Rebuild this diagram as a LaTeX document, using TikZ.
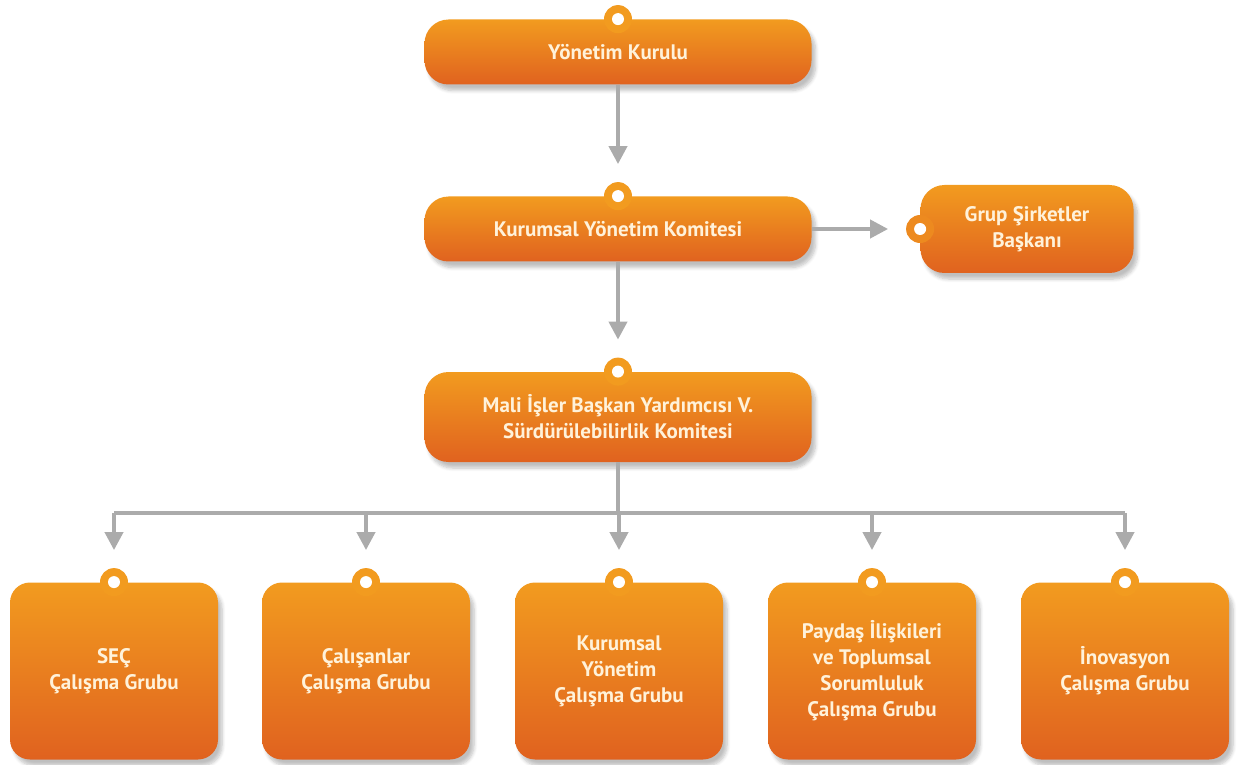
\documentclass[tikz,border=0pt]{standalone}
\usepackage{fontspec}
\setsansfont{PT Sans}
\usetikzlibrary{arrows.meta,shadows.blur}

\definecolor{orangetop}{HTML}{F29B1F}
\definecolor{orangebot}{HTML}{E0621F}
\definecolor{boxtext}{HTML}{FFF2DA}
\definecolor{linegray}{HTML}{ABABAB}

\tikzset{
  box/.style={rounded corners=12pt, top color=orangetop, bottom color=orangebot,
    text=boxtext, font=\sffamily\bfseries\fontsize{10.5}{13}\selectfont,
    align=center, inner sep=0pt,
    blur shadow={shadow xshift=2pt, shadow yshift=-3pt, shadow blur steps=6, shadow opacity=25}},
  widebox/.style={box, minimum width=193.5pt, minimum height=32.5pt},
  tallbox/.style={box, minimum width=193.5pt, minimum height=45pt},
  sidebox/.style={box, minimum width=106.5pt, minimum height=44pt},
  groupbox/.style={box, rounded corners=10pt, minimum width=104pt, minimum height=88.5pt},
  link/.style={draw=linegray, line width=2pt, shorten >=16pt, -{Triangle[length=9pt,width=9pt]}},
  bus/.style={draw=linegray, line width=2pt}
}

\begin{document}
\begin{tikzpicture}[x=0.5pt,y=-0.5pt]
\useasboundingbox (0,0) rectangle (1239,765);

% Committee chain
\node [widebox] (yk) at (618,52) {Yönetim Kurulu};
\node [widebox] (kyk) at (618,229) {Kurumsal Yönetim Komitesi};
\node [sidebox] (gsb) at (1027,229) {Grup Şirketler\\Başkanı};
\node [tallbox] (mib) at (618,417) {Mali İşler Başkan Yardımcısı V.\\Sürdürülebilirlik Komitesi};

% Working groups
\node [groupbox] (g1) at (114,671) {SEÇ\\Çalışma Grubu};
\node [groupbox] (g2) at (366,671) {Çalışanlar\\Çalışma Grubu};
\node [groupbox] (g3) at (619,671) {Kurumsal\\Yönetim\\Çalışma Grubu};
\node [groupbox] (g4) at (872,671) {Paydaş İlişkileri\\ve Toplumsal\\Sorumluluk\\Çalışma Grubu};
\node [groupbox] (g5) at (1125,671) {İnovasyon\\Çalışma Grubu};

% Tabs with holes
\foreach \n in {yk,kyk,mib,g1,g2,g3,g4,g5} {
  \fill [orangetop] (\n.north) circle (7pt);
  \fill [white] (\n.north) circle (3pt);
}
\fill [orangetop!70!orangebot] (gsb.west) circle (7pt);
\fill [white] (gsb.west) circle (3pt);

% Connectors
\draw [link] (yk.south)--(kyk.north);
\draw [link] (kyk.east)--(gsb.west);
\draw [link] (kyk.south)--(mib.north);
\coordinate (split) at (618,513);
\draw [bus] (mib.south)--(split);
\draw [bus] (split -| g1.north)--(split -| g5.north);
\foreach \n in {g1,g2,g3,g4,g5}
  \draw [link] (split -| \n.north)--(\n.north);

\end{tikzpicture}
\end{document}
